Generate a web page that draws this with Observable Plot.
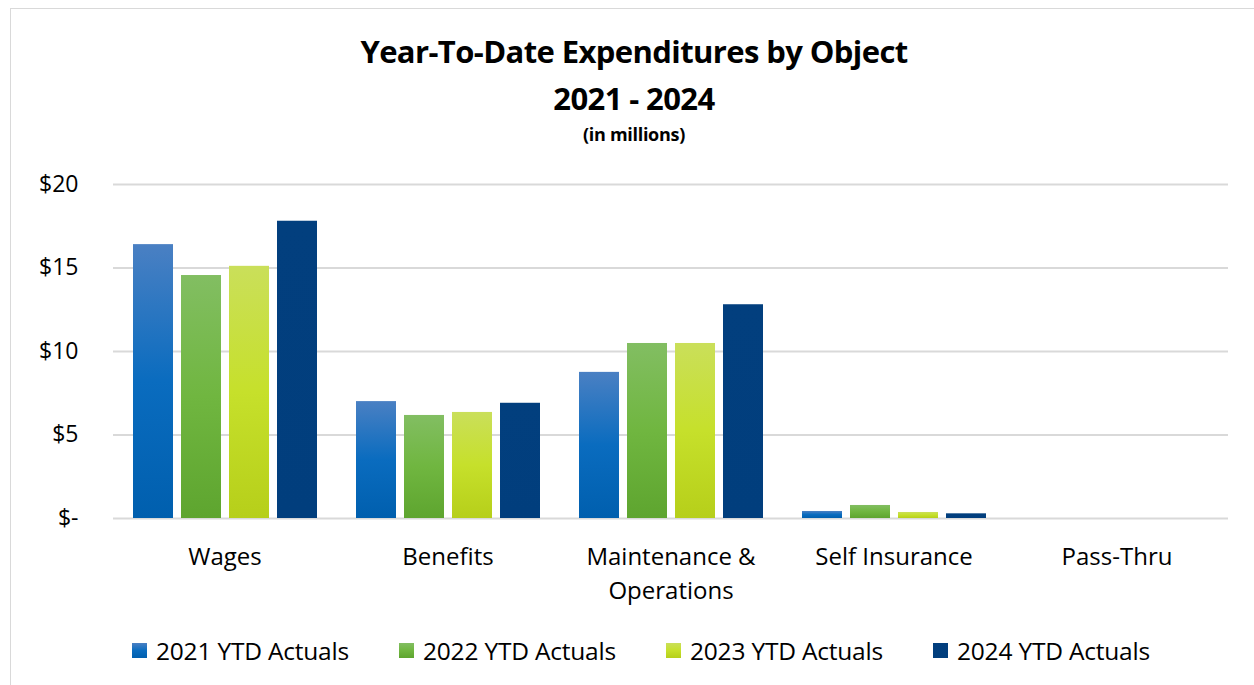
<!DOCTYPE html>
<html>
<head>
<meta charset="utf-8">
<script src="https://cdn.jsdelivr.net/npm/d3@7"></script>
<script src="https://cdn.jsdelivr.net/npm/@observablehq/plot@0.6"></script>
<style>
  html, body { margin: 0; padding: 0; background: #fff; }
  body { width: 1254px; height: 685px; overflow: hidden; position: relative; font-family: "Open Sans", sans-serif; color: #000; }
  #frame { position: absolute; left: 10px; top: 8px; width: 1250px; height: 700px; border: 1.5px solid #d9d9d9; box-sizing: border-box; }
  #title { position: absolute; left: 0; width: 1268px; top: 30px; text-align: center; font-weight: 700; letter-spacing: -0.6px; }
  #title .t1 { font-size: 31px; line-height: 42px; }
  #title .t2 { font-size: 31px; line-height: 52px; }
  #title .t3 { font-size: 18px; line-height: 20px; letter-spacing: -0.3px; }
  #chart { position: absolute; left: 0; top: 160px; }
  #chart svg { font-family: "Open Sans", sans-serif; }
  #legend { position: absolute; top: 634px; left: 132px; display: flex; font-size: 24.5px; letter-spacing: -0.2px; }
  #legend .item { display: flex; align-items: center; margin-right: 50px; }
  #legend .sw { width: 15px; height: 15px; margin-right: 9px; }
</style>
</head>
<body>
<div id="frame"></div>
<div id="title">
  <div class="t1">Year-To-Date Expenditures by Object</div>
  <div class="t2">2021 - 2024</div>
  <div class="t3">(in millions)</div>
</div>
<div id="chart"></div>
<div id="legend"></div>
<script>
const categories = ["Wages", "Benefits", "Maintenance & Operations", "Self Insurance", "Pass-Thru"];
const categoryLabels = ["Wages", "Benefits", "Maintenance &\nOperations", "Self Insurance", "Pass-Thru"];
const series = ["2021 YTD Actuals", "2022 YTD Actuals", "2023 YTD Actuals", "2024 YTD Actuals"];
const values2021 = [16.4, 7.0, 8.75, 0.42, 0];
const values2022 = [14.55, 6.17, 10.48, 0.78, 0];
const values2023 = [15.1, 6.35, 10.48, 0.36, 0];
const values2024 = [17.8, 6.9, 12.8, 0.28, 0];
const yTicks = [0, 5, 10, 15, 20];

const gradientStops = [
  [["0%", "#4a80c3"], ["50%", "#0a6cbf"], ["100%", "#005fae"]],
  [["0%", "#82be62"], ["50%", "#70b640"], ["100%", "#5ea52f"]],
  [["0%", "#cadf5a"], ["50%", "#c6e02b"], ["100%", "#b6cf1a"]],
  [["0%", "#023f7e"], ["100%", "#013e7d"]]
];
const gradientIds = ["g2021", "g2022", "g2023", "g2024"];

const allValues = [values2021, values2022, values2023, values2024];
const data = [];
categories.forEach((c, i) => {
  series.forEach((s, j) => {
    data.push({category: c, series: s, value: allValues[j][i]});
  });
});

const chart = Plot.plot({
  width: 1254,
  height: 450,
  marginLeft: 113,
  marginRight: 26,
  marginTop: 24,
  marginBottom: 92,
  style: {fontSize: "24px", fontFamily: "Open Sans, sans-serif", overflow: "visible"},
  fx: {domain: categories, padding: 0},
  x: {domain: series, paddingInner: 0.175, paddingOuter: 0.386, axis: null},
  y: {domain: [0, 20]},
  color: {domain: series, range: gradientIds.map(id => `url(#${id})`)},
  marks: [
    Plot.ruleY(yTicks, {stroke: "#d9d9d9", strokeWidth: 2}),
    Plot.barY(data, {
      fx: "category", x: "series", y: "value", fill: "series",
      style: "filter: drop-shadow(2px 2px 2.5px rgba(0,0,0,0.35))"
    }),
    Plot.axisY({
      ticks: yTicks,
      tickFormat: d => d === 0 ? "$-" : "$" + d,
      tickSize: 0,
      tickPadding: 35,
      fontSize: 23,
      label: null
    }),
    Plot.axisFx({
      anchor: "bottom",
      tickSize: 0,
      tickPadding: 22,
      fontSize: 24,
      label: null,
      lineHeight: 1.42,
      tickFormat: d => categoryLabels[categories.indexOf(d)]
    })
  ]
});

// gradients
const svgNS = "http://www.w3.org/2000/svg";
const defs = document.createElementNS(svgNS, "defs");
gradientIds.forEach((id, i) => {
  const lg = document.createElementNS(svgNS, "linearGradient");
  lg.setAttribute("id", id);
  lg.setAttribute("x1", "0"); lg.setAttribute("y1", "0");
  lg.setAttribute("x2", "0"); lg.setAttribute("y2", "1");
  gradientStops[i].forEach(([off, col]) => {
    const st = document.createElementNS(svgNS, "stop");
    st.setAttribute("offset", off);
    st.setAttribute("stop-color", col);
    lg.appendChild(st);
  });
  defs.appendChild(lg);
});
chart.insertBefore(defs, chart.firstChild);
document.getElementById("chart").appendChild(chart);

// legend
const legend = document.getElementById("legend");
series.forEach((s, i) => {
  const item = document.createElement("div");
  item.className = "item";
  const sw = document.createElement("div");
  sw.className = "sw";
  const stops = gradientStops[i].map(([o, c]) => `${c} ${o}`).join(", ");
  sw.style.background = `linear-gradient(to bottom, ${stops})`;
  const label = document.createElement("span");
  label.textContent = s;
  item.appendChild(sw);
  item.appendChild(label);
  legend.appendChild(item);
});
</script>
</body>
</html>
